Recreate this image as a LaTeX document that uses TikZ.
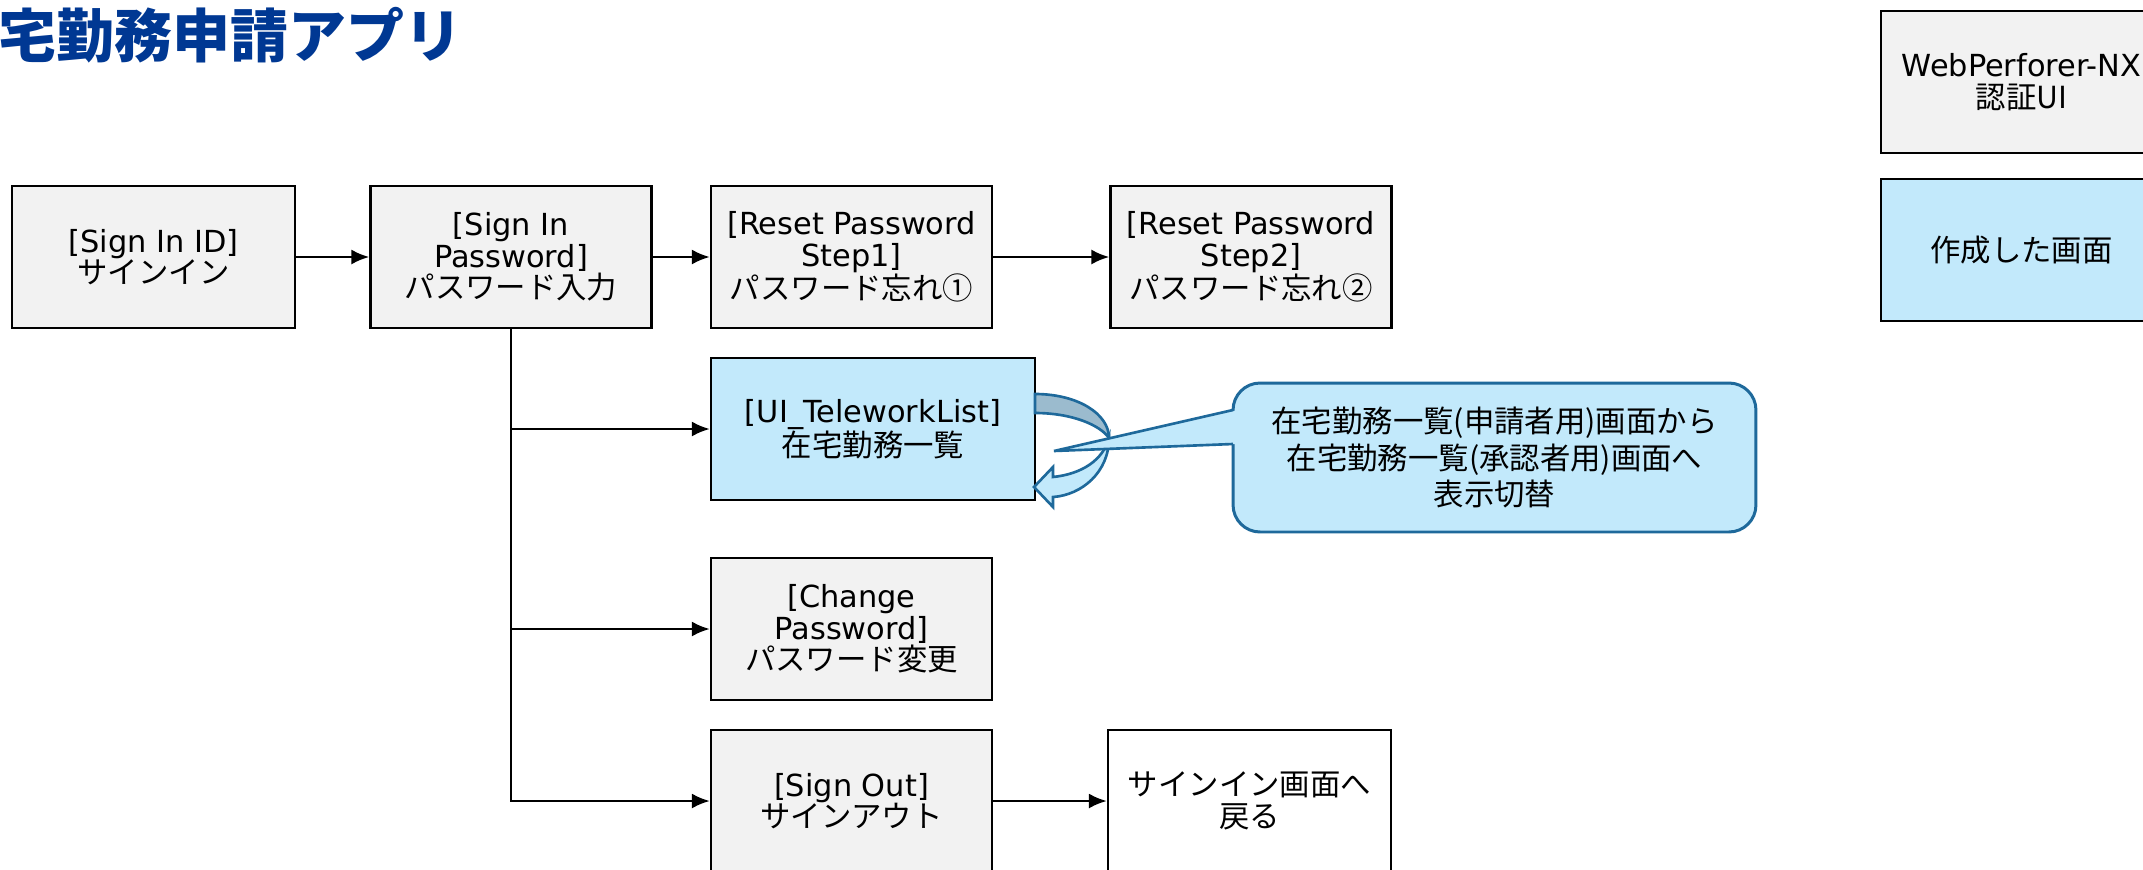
\documentclass[tikz,border=0pt]{standalone}
\usepackage{fontspec}
\setmainfont{DejaVu Sans}
\newfontfamily\jp{Noto Sans CJK JP}
\usepackage{xcolor}
\definecolor{boxgray}{RGB}{242,242,242}
\definecolor{boxblue}{RGB}{194,233,251}
\definecolor{titleblue}{RGB}{0,56,147}
\definecolor{noteline}{RGB}{30,105,155}
\definecolor{noteshade}{RGB}{155,187,206}
\usepackage{tikz}
\usetikzlibrary{arrows.meta}
\newcommand{\boxfont}{\fontsize{17.3}{18}\selectfont}
\newcommand{\screenname}[2]{#1\\{\jp #2}}
\tikzset{
    common/.style={draw, rectangle, line width=1.2pt, minimum height=2.84cm, align=center, font=\boxfont, inner sep=2pt},
    screen/.style={common, fill=boxgray, minimum width=5.62cm},
    made/.style={common, fill=boxblue, minimum width=5.62cm},
    plain/.style={common, fill=white, minimum width=5.66cm},
    flow/.style={-{Latex[length=3.6mm,width=3mm]}, line width=1.6pt},
    note/.style={draw=noteline, fill=boxblue, line width=1.7pt, rounded corners=0.54cm, align=center, font=\fontsize{17.3}{21}\selectfont\jp},
    turn/.style={draw=noteline, line width=1.5pt, line join=miter}
}

\begin{document}
\begin{tikzpicture}[x=0.02cm, y=-0.02cm]
      \useasboundingbox (0,0) rectangle (2143,869);
      \fill[white] (0,0) rectangle (2143,869);
      \clip (0,0) rectangle (2143,869);

      \node[anchor=west, inner sep=0pt, text=titleblue, font=\fontsize{33}{33}\selectfont\jp\bfseries] (title) at (-2,35) {宅勤務申請アプリ};

      % screens
      \path
          (153.5,257) node[screen, minimum width=5.66cm] (signid) {\screenname{[Sign In ID]}{サインイン}}
          (511,257) node[screen] (signpwd) {\screenname{[Sign In\\Password]}{パスワード入力}}
          (851.5,257) node[screen] (reset1) {\screenname{[Reset Password\\Step1]}{パスワード忘れ①}}
          (1251,257) node[screen] (reset2) {\screenname{[Reset Password\\Step2]}{パスワード忘れ②}}
          (873,429) node[made, minimum width=6.48cm] (telework) {\screenname{[UI\_TeleworkList]}{在宅勤務一覧}}
          (851.5,629) node[screen] (changepwd) {\screenname{[Change\\Password]}{パスワード変更}}
          (851.5,801) node[screen] (signout) {\screenname{[Sign Out]}{サインアウト}}
          (1249.5,801) node[plain, font=\boxfont\jp] (backsign) {サインイン画面へ\\戻る};

      % legend
      \path
          (2021.5,82) node[screen] (legendwp) {WebPerforer-NX\\{\jp 認証UI}}
          (2021.5,250) node[made, font=\boxfont\jp] (legendmade) {作成した画面};

      \draw[flow] (signid) -- (signpwd);
      \draw[flow] (signpwd) -- (reset1);
      \draw[flow] (reset1) -- (reset2);
      \draw[flow] (signpwd.south) |- (telework.west);
      \draw[flow] (signpwd.south) |- (changepwd.west);
      \draw[flow] (signpwd.south) |- (signout.west);
      \draw[flow] (signout) -- (backsign);

      % switch arrow
      \filldraw[turn, fill=noteshade] (1035,394) .. controls (1078,394) and (1109,414) .. (1109,438)
          .. controls (1100,425) and (1072,413) .. (1035,413) -- cycle;
      \filldraw[turn, fill=boxblue] (1109,438) .. controls (1109,472) and (1082,495) .. (1053,497)
          -- (1053,507) -- (1034,487) -- (1053,467) -- (1053,477)
          .. controls (1082,474) and (1103,460) .. (1109,438) -- cycle;

      % note
      \node[note, minimum width=10.46cm, minimum height=2.98cm] (callout) at (1494.5,457.5)
          {在宅勤務一覧(申請者用)画面から\\在宅勤務一覧(承認者用)画面へ\\表示切替};
      \coordinate (tip) at (1054,451);
      \coordinate (tip-a) at (1233,410);
      \coordinate (tip-b) at (1233,444);
      \fill[boxblue] (tip) -- (1238,410) -- (1238,444) -- cycle;
      \draw[turn] (tip-a) -- (tip) -- (tip-b);
\end{tikzpicture}
\end{document}
